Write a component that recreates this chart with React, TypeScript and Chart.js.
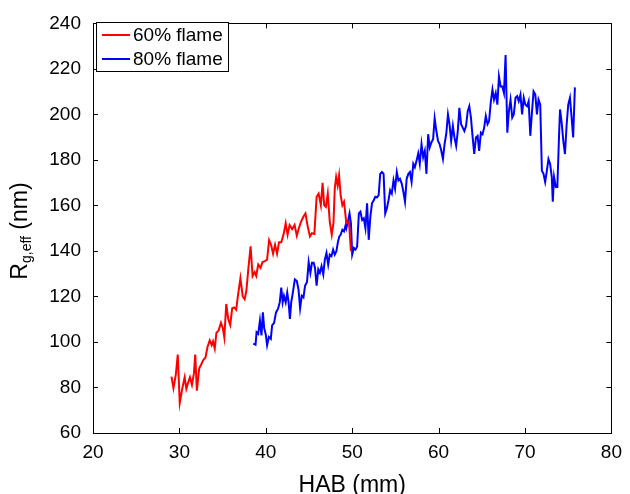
import React, { useEffect, useRef } from "react";
import { Chart, registerables } from "chart.js";

Chart.register(...registerables);

const seriesLabels = ["60% flame", "80% flame"];
const seriesColors = ["#ff0000", "#0000ff"];
const xTicks = [20, 30, 40, 50, 60, 70, 80];
const yTicks = [60, 80, 100, 120, 140, 160, 180, 200, 220, 240];
const xTitle = "HAB (mm)";
const yTitleMain = "R";
const yTitleSub = "g,eff";
const yTitleRest = " (nm)";

const redX = [29.08,29.31,29.58,29.81,30.04,30.34,30.61,30.80,30.99,31.22,31.45,31.68,31.83,32.02,32.29,32.52,32.75,33.02,33.25,33.51,33.74,33.89,34.09,34.28,34.54,34.81,35.04,35.20,35.42,35.65,35.88,36.11,36.34,36.57,36.80,37.06,37.33,37.55,37.75,37.98,38.24,38.47,38.70,38.89,39.12,39.39,39.62,39.89,40.15,40.38,40.61,40.84,41.07,41.30,41.53,41.79,42.07,42.30,42.52,42.75,43.05,43.33,43.59,43.82,44.08,44.36,44.59,44.85,45.11,45.34,45.62,45.88,46.11,46.37,46.57,46.76,46.95,47.17,47.40,47.63,47.83,47.98,48.14,48.32,48.48,48.66,48.86,49.05,49.32,49.62,49.85];
const redY = [84.8,79.7,85.5,94.5,73.2,79.7,84.5,79.4,81.9,84.5,81.2,86.2,94.5,78.6,88.4,90.1,92.0,93.2,97.8,100.7,98.6,100.3,97.1,104.0,105.1,108.4,105.8,102.0,116.7,110.1,107.5,114.8,115.2,114.2,121.0,128.0,120.0,118.8,122.5,132.2,142.0,129.0,130.7,129.0,134.0,132.6,135.1,135.5,136.2,144.7,142.7,138.8,142.7,138.8,143.8,143.8,147.5,152.2,147.1,151.4,149.6,151.4,146.7,150.0,152.9,155.1,156.5,150.7,146.4,147.8,147.5,163.8,165.2,160.1,169.9,160.1,159.4,165.2,152.9,147.1,152.2,167.4,172.5,168.8,173.2,164.5,160.1,161.6,152.2,152.9,139.9];

const blueX = [38.55,38.81,38.93,39.12,39.32,39.50,39.66,39.81,40.00,40.15,40.35,40.58,40.73,40.96,41.18,41.41,41.61,41.79,41.95,42.10,42.30,42.48,42.64,42.79,42.94,43.13,43.36,43.59,43.78,43.97,44.16,44.36,44.54,44.77,44.96,45.16,45.34,45.54,45.69,45.88,46.07,46.26,46.45,46.65,46.83,47.02,47.22,47.40,47.60,47.79,47.98,48.17,48.36,48.51,48.66,48.86,49.05,49.24,49.32,49.54,49.69,49.85,50.00,50.20,50.38,50.57,50.77,50.95,51.15,51.34,51.53,51.72,51.91,52.10,52.29,52.49,52.67,52.86,53.06,53.24,53.44,53.63,53.82,54.01,54.20,54.39,54.58,54.78,54.96,55.16,55.35,55.53,55.73,55.92,56.11,56.30,56.50,56.68,56.87,57.07,57.25,57.45,57.64,57.82,58.02,58.21,58.40,58.59,58.79,58.97,59.16,59.36,59.54,59.74,59.93,60.11,60.31,60.50,60.69,60.88,61.08,61.26,61.45,61.65,61.83,62.03,62.22,62.40,62.60,62.79,62.98,63.17,63.37,63.55,63.74,63.94,64.12,64.32,64.51,64.69,64.89,65.08,65.27,65.46,65.66,65.84,66.03,66.23,66.41,66.61,66.80,66.98,67.18,67.37,67.56,67.75,67.95,68.13,68.32,68.52,68.70,68.90,69.09,69.27,69.47,69.66,69.85,70.04,70.24,70.42,70.61,70.81,70.99,71.19,71.38,71.56,71.76,71.95,72.14,72.33,72.53,72.71,72.90,73.10,73.21,73.36,73.56,73.74,73.93,74.05,74.24,74.43,74.62,74.82,75.00,75.20,75.39,75.57,75.77];
const blueY = [99.3,98.8,104.3,103.6,109.4,102.9,113.0,106.1,103.2,98.6,102.2,101.4,107.3,108.4,113.0,114.5,117.4,123.9,117.4,120.3,117.4,121.7,117.4,110.1,117.4,121.7,127.5,126.8,123.2,114.8,120.3,119.6,124.7,126.4,135.1,130.4,134.8,134.8,132.6,124.7,131.9,130.4,133.3,129.7,136.2,139.1,134.0,138.4,137.7,140.6,138.4,139.9,144.2,146.4,147.1,149.3,148.6,151.4,150.0,153.6,156.5,152.2,138.4,141.3,140.6,142.0,156.5,157.3,153.6,154.3,150.0,160.9,144.9,155.1,160.9,162.3,163.8,163.5,164.5,173.9,174.7,173.9,156.5,158.7,162.3,166.7,165.2,171.0,167.4,174.7,171.0,171.7,169.6,166.0,161.6,171.7,173.9,174.7,170.3,178.3,176.8,179.7,182.9,178.3,187.0,181.2,184.0,173.9,191.3,185.5,187.7,189.1,198.3,192.7,188.4,187.0,184.0,180.4,187.0,191.3,200.0,195.7,188.4,194.9,189.9,186.2,192.7,202.9,195.7,194.2,192.7,194.9,201.4,203.6,198.6,189.9,182.6,189.9,190.6,184.0,192.0,191.3,194.2,199.3,195.7,197.1,205.1,210.9,206.5,209.4,204.3,216.7,212.3,212.3,209.4,226.1,192.0,201.4,206.5,198.6,200.0,207.3,208.0,205.8,208.7,200.0,207.3,204.3,203.6,205.8,190.6,201.4,210.1,208.7,200.0,206.5,204.3,175.3,173.9,170.3,175.3,180.4,178.3,172.5,161.6,172.5,168.1,168.1,189.9,202.2,196.4,188.4,182.6,195.7,204.3,207.3,198.6,189.9,211.9];

const FONT = "'Liberation Sans', Arial, Helvetica, sans-serif";

const framePlugin = {
  id: "matlabFrame",
  afterDraw(chart: any) {
    const { ctx, chartArea, scales } = chart;
    const { left, right, top, bottom } = chartArea;
    const xs = scales.x;
    const ys = scales.y;
    ctx.save();
    ctx.strokeStyle = "#000";
    ctx.lineWidth = 1;
    // box
    ctx.strokeRect(Math.round(left) + 0.5, Math.round(top) + 0.5, Math.round(right - left), Math.round(bottom - top));
    // inward ticks
    const tl = 5;
    ctx.beginPath();
    xTicks.forEach((v) => {
      const px = Math.round(xs.getPixelForValue(v)) + 0.5;
      ctx.moveTo(px, bottom);
      ctx.lineTo(px, bottom - tl);
      ctx.moveTo(px, top);
      ctx.lineTo(px, top + tl);
    });
    yTicks.forEach((v) => {
      const py = Math.round(ys.getPixelForValue(v)) + 0.5;
      ctx.moveTo(left, py);
      ctx.lineTo(left + tl, py);
      ctx.moveTo(right, py);
      ctx.lineTo(right - tl, py);
    });
    ctx.stroke();

    // legend
    const lx = 96.5, ly = 22.5, lw = 132, lh = 49;
    ctx.fillStyle = "#fff";
    ctx.fillRect(lx, ly, lw, lh);
    ctx.strokeRect(lx, ly, lw, lh);
    ctx.font = `19px ${FONT}`;
    ctx.textBaseline = "middle";
    ctx.textAlign = "left";
    chart.data.datasets.forEach((ds: any, i: number) => {
      const yy = 35 + i * 24;
      ctx.strokeStyle = ds.borderColor;
      ctx.lineWidth = 2;
      ctx.beginPath();
      ctx.moveTo(102, yy);
      ctx.lineTo(130, yy);
      ctx.stroke();
      ctx.fillStyle = "#000";
      ctx.fillText(ds.label, 133, yy + 1);
    });

    // x title
    ctx.fillStyle = "#000";
    ctx.font = `23px ${FONT}`;
    ctx.textAlign = "center";
    ctx.textBaseline = "alphabetic";
    ctx.fillText(xTitle, (left + right) / 2, 492);

    // y title with subscript
    ctx.save();
    ctx.translate(27, 231);
    ctx.rotate(-Math.PI / 2);
    ctx.textAlign = "left";
    ctx.font = `23px ${FONT}`;
    const wR = ctx.measureText(yTitleMain).width;
    const wRest = ctx.measureText(yTitleRest).width;
    ctx.font = `14px ${FONT}`;
    const wSub = ctx.measureText(yTitleSub).width;
    const total = wR + wSub + wRest;
    let cx = -total / 2;
    ctx.font = `23px ${FONT}`;
    ctx.fillText(yTitleMain, cx, 0);
    cx += wR;
    ctx.font = `14px ${FONT}`;
    ctx.fillText(yTitleSub, cx, 4);
    cx += wSub;
    ctx.font = `23px ${FONT}`;
    ctx.fillText(yTitleRest, cx, 0);
    ctx.restore();

    ctx.restore();
  },
};

export default function App() {
  const ref = useRef<HTMLCanvasElement>(null);
  useEffect(() => {
    if (!ref.current) return;
    const mk = (xsArr: number[], ysArr: number[]) => xsArr.map((x, i) => ({ x, y: ysArr[i] }));
    const chart = new Chart(ref.current, {
      type: "line",
      data: {
        datasets: [
          { label: seriesLabels[0], data: mk(redX, redY), borderColor: seriesColors[0], backgroundColor: seriesColors[0], borderWidth: 2, pointRadius: 0, tension: 0, fill: false },
          { label: seriesLabels[1], data: mk(blueX, blueY), borderColor: seriesColors[1], backgroundColor: seriesColors[1], borderWidth: 2, pointRadius: 0, tension: 0, fill: false },
        ],
      },
      options: {
        animation: false,
        responsive: false,
        maintainAspectRatio: false,
        layout: { padding: { left: 0, top: 18, right: 13, bottom: 0 } },
        scales: {
          x: {
            type: "linear",
            min: 20,
            max: 80,
            afterFit: (s: any) => { s.height = 61; },
            afterBuildTicks: (s: any) => { s.ticks = xTicks.map((v) => ({ value: v })); },
            grid: { display: false, drawTicks: false },
            border: { display: false },
            ticks: { color: "#000", font: { family: FONT, size: 19 }, padding: 8, maxRotation: 0, autoSkip: false },
          },
          y: {
            type: "linear",
            min: 60,
            max: 240,
            afterFit: (s: any) => { s.width = 93; },
            afterBuildTicks: (s: any) => { s.ticks = yTicks.map((v) => ({ value: v })); },
            grid: { display: false, drawTicks: false },
            border: { display: false },
            ticks: { color: "#000", font: { family: FONT, size: 19 }, padding: 12, autoSkip: false },
          },
        },
        plugins: { legend: { display: false }, tooltip: { enabled: false }, title: { display: false } },
      },
      plugins: [framePlugin],
    } as any);
    return () => chart.destroy();
  }, []);
  return (
    <div style={{ position: "fixed", left: 0, top: 0, width: 630, height: 494, background: "#fff" }}>
      <canvas ref={ref} width={630} height={494} style={{ display: "block" }} />
    </div>
  );
}
